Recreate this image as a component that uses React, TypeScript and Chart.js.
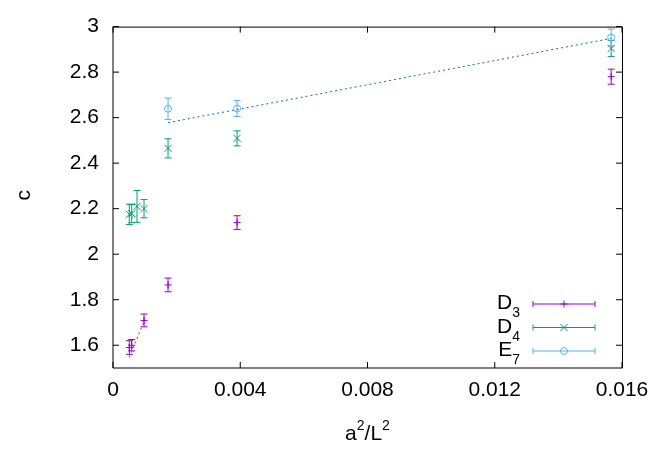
import { useEffect, useRef } from "react";
import { Chart, registerables } from "chart.js";

Chart.register(...registerables);

// ---- data ----
const d3X = [0.000513, 0.000588, 0.000975, 0.00173, 0.0039, 0.01566];
const d3Y = [1.59, 1.6, 1.709, 1.865, 2.139, 2.78];
const d3Err = [0.03, 0.025, 0.028, 0.03, 0.03, 0.033];

const d4X = [0.000513, 0.000588, 0.000755, 0.000975, 0.00173, 0.0039, 0.01566];
const d4Y = [2.175, 2.178, 2.21, 2.2, 2.465, 2.509, 2.904];
const d4Err = [0.045, 0.04, 0.07, 0.04, 0.042, 0.033, 0.035];

const e7X = [0.00173, 0.0039, 0.01566];
const e7Y = [2.639, 2.64, 2.952];
const e7Err = [0.047, 0.035, 0.037];

const d3FitX = [0.000513, 0.000975];
const d3FitY = [1.547, 1.704];
const e7FitX = [0.00173, 0.01566];
const e7FitY = [2.578, 2.948];

const seriesLabels = ["D3", "D4", "E7"];
const xTickValues = [0, 0.004, 0.008, 0.012, 0.016];
const xTickLabels = ["0", "0.004", "0.008", "0.012", "0.016"];
const yTickValues = [1.6, 1.8, 2.0, 2.2, 2.4, 2.6, 2.8, 3.0];
const yTickLabels = ["1.6", "1.8", "2", "2.2", "2.4", "2.6", "2.8", "3"];
const xTitleParts: [string, boolean][] = [["a", false], ["2", true], ["/L", false], ["2", true]];
const yTitle = "c";

const COLORS = ["#9400d3", "#009e73", "#56b4e9"];
const STYLES = ["cross", "crossRot", "circle"];
const FONT = "'Liberation Sans', Arial, sans-serif";

const zip = (xs: number[], ys: number[]) => xs.map((x, i) => ({ x, y: ys[i] }));

function drawMarker(ctx: CanvasRenderingContext2D, style: string, x: number, y: number) {
  ctx.beginPath();
  if (style === "cross") {
    ctx.moveTo(x - 3.5, y);
    ctx.lineTo(x + 3.5, y);
    ctx.moveTo(x, y - 3.5);
    ctx.lineTo(x, y + 3.5);
  } else if (style === "crossRot") {
    ctx.moveTo(x - 3.5, y - 3.5);
    ctx.lineTo(x + 3.5, y + 3.5);
    ctx.moveTo(x - 3.5, y + 3.5);
    ctx.lineTo(x + 3.5, y - 3.5);
  } else {
    ctx.arc(x, y, 3.5, 0, Math.PI * 2);
  }
  ctx.stroke();
}

const errorBarPlugin = {
  id: "errorBars",
  beforeDatasetsDraw(chart: any) {
    const { ctx, scales } = chart;
    const xs = scales.x;
    const ys = scales.y;
    chart.data.datasets.forEach((ds: any) => {
      const errs: number[] | undefined = ds.errors;
      if (!errs) return;
      ctx.save();
      ctx.strokeStyle = ds.borderColor;
      ctx.lineWidth = 1;
      ds.data.forEach((p: any, j: number) => {
        const px = xs.getPixelForValue(p.x);
        const top = ys.getPixelForValue(p.y + errs[j]);
        const bot = ys.getPixelForValue(p.y - errs[j]);
        ctx.beginPath();
        ctx.moveTo(px, top);
        ctx.lineTo(px, bot);
        ctx.moveTo(px - 3.5, top);
        ctx.lineTo(px + 3.5, top);
        ctx.moveTo(px - 3.5, bot);
        ctx.lineTo(px + 3.5, bot);
        ctx.stroke();
      });
      ctx.restore();
    });
  },
};

const framePlugin = {
  id: "frame",
  afterDraw(chart: any) {
    const { ctx, chartArea, scales } = chart;
    const { left, right, top, bottom } = chartArea;
    ctx.save();
    ctx.strokeStyle = "#000";
    ctx.lineWidth = 1;
    ctx.beginPath();
    ctx.moveTo(left, top + 0.5);
    ctx.lineTo(right + 0.5, top + 0.5);
    ctx.lineTo(right + 0.5, bottom);
    ctx.lineTo(left, bottom);
    ctx.closePath();
    ctx.stroke();
    const tl = 6;
    ctx.beginPath();
    scales.x.ticks.forEach((t: any) => {
      const px = scales.x.getPixelForValue(t.value);
      ctx.moveTo(px, bottom);
      ctx.lineTo(px, bottom - tl);
      ctx.moveTo(px, top);
      ctx.lineTo(px, top + tl);
    });
    scales.y.ticks.forEach((t: any) => {
      const py = scales.y.getPixelForValue(t.value);
      ctx.moveTo(left, py);
      ctx.lineTo(left + tl, py);
      ctx.moveTo(right, py);
      ctx.lineTo(right - tl, py);
    });
    ctx.stroke();

    // x-axis title with superscripts
    ctx.fillStyle = "#000";
    ctx.textBaseline = "alphabetic";
    ctx.textAlign = "left";
    const bigFont = `21px ${FONT}`;
    const smallFont = `14px ${FONT}`;
    let total = 0;
    xTitleParts.forEach(([t, sup]) => {
      ctx.font = sup ? smallFont : bigFont;
      total += ctx.measureText(t).width;
    });
    let cx = (left + right) / 2 - total / 2;
    const base = 440;
    xTitleParts.forEach(([t, sup]) => {
      ctx.font = sup ? smallFont : bigFont;
      ctx.fillText(t, cx, sup ? base - 10 : base);
      cx += ctx.measureText(t).width;
    });

    // y-axis title
    ctx.save();
    ctx.translate(24, (top + bottom) / 2 - 2);
    ctx.rotate(-Math.PI / 2);
    ctx.font = bigFont;
    ctx.textAlign = "center";
    ctx.textBaseline = "middle";
    ctx.fillText(yTitle, 0, 0);
    ctx.restore();

    // legend
    const lineL = right - 89;
    const lineR = right - 27;
    const textR = right - 102;
    seriesLabels.forEach((lab, i) => {
      const b = bottom - 59 + i * 23.5;
      const ly = b - 5;
      const main = lab.slice(0, 1);
      const sub = lab.slice(1);
      ctx.fillStyle = "#000";
      ctx.textBaseline = "alphabetic";
      ctx.font = `14px ${FONT}`;
      const subW = ctx.measureText(sub).width;
      ctx.textAlign = "right";
      ctx.fillText(sub, textR, b + 8);
      ctx.font = `21px ${FONT}`;
      ctx.fillText(main, textR - subW, b);
      ctx.strokeStyle = COLORS[i];
      ctx.beginPath();
      ctx.moveTo(lineL, ly);
      ctx.lineTo(lineR, ly);
      ctx.moveTo(lineL, ly - 3);
      ctx.lineTo(lineL, ly + 3);
      ctx.moveTo(lineR, ly - 3);
      ctx.lineTo(lineR, ly + 3);
      ctx.stroke();
      drawMarker(ctx, STYLES[i], (lineL + lineR) / 2, ly);
    });
    ctx.restore();
  },
};

export default function App() {
  const ref = useRef<HTMLCanvasElement | null>(null);
  useEffect(() => {
    document.body.style.margin = "0";
    const canvas = ref.current;
    if (!canvas) return;
    const seriesX = [d3X, d4X, e7X];
    const seriesY = [d3Y, d4Y, e7Y];
    const seriesErr = [d3Err, d4Err, e7Err];
    const datasets: any[] = seriesLabels.map((lab, i) => ({
      label: lab,
      data: zip(seriesX[i], seriesY[i]),
      errors: seriesErr[i],
      borderColor: COLORS[i],
      backgroundColor: "transparent",
      pointStyle: STYLES[i],
      pointRadius: STYLES[i] === "crossRot" ? 5 : 3.5,
      pointBorderWidth: 1,
      showLine: false,
    }));
    datasets.push({
      label: "D3 fit",
      data: zip(d3FitX, d3FitY),
      borderColor: "#e51e10",
      borderWidth: 1,
      borderDash: [2, 3],
      pointRadius: 0,
      showLine: true,
    });
    datasets.push({
      label: "E7 fit",
      data: zip(e7FitX, e7FitY),
      borderColor: "#0072b2",
      borderWidth: 1,
      borderDash: [2, 3],
      pointRadius: 0,
      showLine: true,
    });

    const chart = new Chart(canvas, {
      type: "scatter",
      data: { datasets },
      options: {
        animation: false,
        responsive: false,
        events: [],
        layout: { padding: { left: 0, right: 42, top: 23, bottom: 0 } },
        plugins: { legend: { display: false }, tooltip: { enabled: false } },
        scales: {
          x: {
            type: "linear",
            min: 0,
            max: 0.016,
            grid: { display: false, drawTicks: false },
            border: { display: false },
            afterBuildTicks: (s: any) => {
              s.ticks = xTickValues.map((value) => ({ value }));
            },
            afterFit: (s: any) => {
              s.height = 97;
            },
            ticks: {
              padding: 10,
              color: "#000",
              font: { size: 21, family: FONT },
              maxRotation: 0,
              autoSkip: false,
              callback: (_v: any, i: number) => xTickLabels[i],
            },
            title: { display: false },
          },
          y: {
            type: "linear",
            min: 1.5,
            max: 3,
            grid: { display: false, drawTicks: false },
            border: { display: false },
            afterBuildTicks: (s: any) => {
              s.ticks = yTickValues.map((value) => ({ value }));
            },
            afterFit: (s: any) => {
              s.width = 113;
            },
            ticks: {
              padding: 14,
              color: "#000",
              font: { size: 21, family: FONT },
              autoSkip: false,
              callback: (_v: any, i: number) => yTickLabels[i],
            },
            title: { display: false },
          },
        },
      } as any,
      plugins: [errorBarPlugin, framePlugin],
    });
    return () => chart.destroy();
  }, []);
  return <canvas ref={ref} width={664} height={465} style={{ display: "block" }} />;
}
